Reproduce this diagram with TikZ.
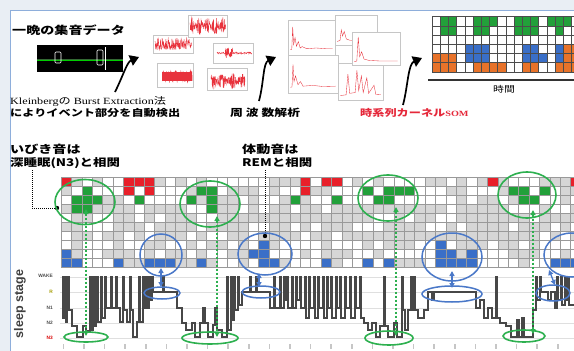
\documentclass[tikz,border=0pt]{standalone}
\usepackage{fontspec}
\usepackage{graphicx}
\usetikzlibrary{shapes.geometric,arrows.meta}
\newfontfamily\jp{Noto Sans CJK JP}
\newfontfamily\lsans{Liberation Sans}
\newfontfamily\lserif{Liberation Serif}
\newcommand\sx[1]{\scalebox{1.28}[1]{#1}}
\definecolor{bgpanel}{HTML}{E9EEF4}
\definecolor{frameblue}{HTML}{8EAEDB}
\definecolor{cellgray}{HTML}{D6D6D6}
\definecolor{gridline}{HTML}{999999}
\definecolor{somgreen}{HTML}{22A03A}
\definecolor{somred}{HTML}{E8202A}
\definecolor{somblue}{HTML}{3A6FC8}
\definecolor{somorange}{HTML}{E8732A}
\definecolor{ellgreen}{HTML}{2DB04F}
\definecolor{ellblue}{HTML}{4A78C8}
\definecolor{hypno}{HTML}{474747}
\definecolor{wavered}{HTML}{E8323C}
\definecolor{redtext}{HTML}{E5283A}
\tikzset{
  txt/.style={inner sep=0, anchor=west},
  gell/.style={draw=ellgreen, line width=1.6, ellipse, inner sep=0},
  bell/.style={draw=ellblue, line width=1.5, ellipse, inner sep=0},
  garrow/.style={ellgreen, line width=1.3, dash pattern=on 2.5pt off 1.5pt, {Triangle[length=5pt,width=5pt]}-{Triangle[length=5pt,width=5pt]}},
  barrow/.style={ellblue, line width=1.3, {Triangle[length=5pt,width=5pt]}-{Triangle[length=5pt,width=5pt]}},
  bigarrow/.style={black, line width=1.7, -{Triangle[length=9pt,width=11pt]}},
  dotline/.style={black, line width=1, densely dotted},
  frm/.style={draw=gray!45, line width=0.4, fill=white},
  sig/.style={wavered, line width=0.35},
  hyp/.style={hypno, line width=1.2},
  lvl/.style={inner sep=0, anchor=east, font=\lsans\bfseries\fontsize{4.8}{5}\selectfont},
  somline/.style={draw=black!70, line width=0.6}
}
\begin{document}
\begin{tikzpicture}[x=1pt,y=-1pt]
\useasboundingbox (0,0) rectangle (574,351);
% background and panel
\fill[bgpanel] (0,0) rectangle (574,351);
\fill[white] (10,10) rectangle (574,351);
\draw[frameblue, line width=1] (10,351) -- (10,10) -- (574,10);

% ---------- top row ----------
\node[txt, font=\jp\bfseries\fontsize{11}{12}\selectfont] (t1) at (12,30) {\sx{一晩の集音データ}};
\fill[black] (37,45) rectangle (123,72);
\draw[green!70!black!60!white, line width=2.2, opacity=0.5] (37,60) -- (123,60);
\draw[green!80!black, line width=0.8] (37,60) -- (123,60);
\draw[white, line width=0.6, rounded corners=1] (55,52) rectangle (61,63);
\draw[white, line width=0.6, rounded corners=1] (97,50) rectangle (103,65);
\draw[white, line width=0.8] (105.5,47) -- (105.5,70);

% waveform panels
\begin{scope}[shift={(153,35)}, x=40pt, y=-18pt]
  \draw[frm] (0,0) rectangle (1,1);
  \draw[sig] plot[domain=0.05:0.97, samples=140] (\x, {0.5+0.33*rand});
\end{scope}
\begin{scope}[shift={(188,15)}, x=39pt, y=-22pt]
  \draw[frm] (0,0) rectangle (1,1);
  \draw[sig] plot[domain=0.05:0.97, samples=160] (\x, {0.5+(0.1+0.3*abs(sin(\x*900)))*rand});
\end{scope}
\begin{scope}[shift={(213,43)}, x=40pt, y=-20pt]
  \draw[frm] (0,0) rectangle (1,1);
  \draw[sig] plot[domain=0.1:0.97, samples=120] (\x, {0.5+(0.05+0.2*(\x>0.3)*(\x<0.5))*rand});
\end{scope}
\begin{scope}[shift={(157,63)}, x=36pt, y=-24pt]
  \draw[frm] (0,0) rectangle (1,1);
  \fill[wavered] (0.15,0.38) rectangle (0.98,0.76);
  \draw[sig] plot[domain=0.15:0.98, samples=100] (\x, {0.57+0.25*rand});
\end{scope}
\begin{scope}[shift={(207,68)}, x=40pt, y=-22pt]
  \draw[frm] (0,0) rectangle (1,1);
  \draw[sig] plot[domain=0.1:0.95, samples=160] (\x, {0.6+(0.1+0.28*abs(sin(\x*700)))*rand});
\end{scope}

% spectrum panels
\begin{scope}[shift={(288,20)}, x=47pt, y=-35pt]
  \draw[frm] (0,0) rectangle (1,1);
  \draw[sig] (0.05,0.85) -- (0.08,0.84) -- (0.1,0.2) -- (0.12,0.7) -- (0.15,0.5) -- (0.18,0.75) -- (0.22,0.62) -- (0.26,0.8) -- (0.3,0.76) -- (0.4,0.82) -- (0.6,0.8) -- (0.8,0.82) -- (0.95,0.82);
\end{scope}
\begin{scope}[shift={(288,55)}, x=50pt, y=-38pt]
  \draw[frm] (0,0) rectangle (1,1);
  \draw[sig] (0.05,0.85) -- (0.08,0.84) -- (0.1,0.25) -- (0.12,0.7) -- (0.15,0.55) -- (0.2,0.78) -- (0.25,0.7) -- (0.3,0.82) -- (0.5,0.8) -- (0.7,0.83) -- (0.95,0.82);
\end{scope}
\begin{scope}[shift={(335,15)}, x=42pt, y=-30pt]
  \draw[frm] (0,0) rectangle (1,1);
  \draw[sig] (0.05,0.88) -- (0.12,0.85) -- (0.15,0.5) -- (0.18,0.7) -- (0.22,0.55) -- (0.27,0.8) -- (0.35,0.84) -- (0.6,0.86) -- (0.95,0.86);
\end{scope}
\begin{scope}[shift={(338,63)}, x=45pt, y=-37pt]
  \draw[frm] (0,0) rectangle (1,1);
  \draw[sig] (0.05,0.88) -- (0.18,0.86) -- (0.22,0.3) -- (0.26,0.82) -- (0.38,0.8) -- (0.42,0.2) -- (0.46,0.75) -- (0.52,0.35) -- (0.56,0.8) -- (0.64,0.4) -- (0.68,0.82) -- (0.8,0.6) -- (0.84,0.85) -- (0.95,0.86);
\end{scope}
\begin{scope}[shift={(352,32)}, x=48pt, y=-33pt]
  \draw[frm] (0,0) rectangle (1,1);
  \draw[sig] (0.05,0.9) -- (0.1,0.88) -- (0.13,0.15) -- (0.16,0.75) -- (0.2,0.6) -- (0.25,0.82) -- (0.35,0.86) -- (0.6,0.88) -- (0.95,0.88);
\end{scope}

% big black arrows
\coordinate (a1s) at (115,92); \coordinate (a1e) at (139,57);
\draw[bigarrow] (a1s) .. controls (123,76) and (127,62) .. (a1e);
\coordinate (a2s) at (259,101); \coordinate (a2e) at (276,57);
\draw[bigarrow] (a2s) .. controls (264,82) and (263,63) .. (a2e);
\coordinate (a3s) at (403,105); \coordinate (a3e) at (422,58);
\draw[bigarrow] (a3s) .. controls (408,86) and (408,64) .. (a3e);

% top SOM grid
\begin{scope}
\clip (431,15) rectangle (574,74);
\fill[white] (432,16.7) rectangle (580,71.9);
\foreach \c/\r in {1/0,2/0,5/0,6/0,7/0,10/0,11/0,12/0,14/0,15/0,16/0,1/1,2/1,5/1,6/1,10/1,11/1,12/1,15/1}
  \fill[somgreen] ({432+8.2*\c},{16.7+9.2*\r}) rectangle ++(8.2,9.2);
\foreach \c/\r in {4/3,5/3,6/3,11/3,12/3,15/3,4/4,5/4,6/4,11/4,12/4,13/4,15/4}
  \fill[somblue] ({432+8.2*\c},{16.7+9.2*\r}) rectangle ++(8.2,9.2);
\foreach \c/\r in {0/4,1/4,2/4,0/5,1/5,2/5,5/5,6/5,7/5,8/5,11/5,12/5,16/3,16/4,15/5,16/5,17/3,17/4,17/5}
  \fill[somorange] ({432+8.2*\c},{16.7+9.2*\r}) rectangle ++(8.2,9.2);
\foreach \c in {0,...,18} \draw[somline] ({432+8.2*\c},16.7) -- ++(0,55.2);
\foreach \r in {0,...,6} \draw[somline] (432,{16.7+9.2*\r}) -- (580,{16.7+9.2*\r});
\end{scope}
\draw[black!80, line width=2] (428,80) -- (574,80);
\node[inner sep=0, font=\jp\fontsize{8.5}{9}\selectfont] (tj) at (504,89) {\sx{時間}};

% top captions
\node[txt, font=\fontsize{9.5}{10}\selectfont] (k1) at (10,102) {\sx{{\lserif Kleinberg}{\jp の}{\lserif\ Burst Extraction}{\jp 法}}};
\node[txt, font=\jp\bfseries\fontsize{9.5}{10}\selectfont] (k2) at (10,113) {\sx{によりイベント部分を自動検出}};
\node[txt, font=\jp\bfseries\fontsize{10}{11}\selectfont] (fa) at (230,113) {\sx{周 波 数解析}};
\node[txt, font=\jp\bfseries\fontsize{9.5}{10}\selectfont, text=redtext] (som) at (360,113) {\sx{時系列カーネル{\lserif\fontsize{8}{9}\selectfont SOM}}};

% ---------- bottom: labels ----------
\node[txt, font=\jp\bfseries\fontsize{11}{12}\selectfont] (l1) at (10,149) {\sx{いびき音は}};
\node[txt, font=\jp\bfseries\fontsize{10.5}{12}\selectfont] (l2) at (10,163) {\sx{深睡眠(N3)と相関}};
\node[txt, font=\jp\bfseries\fontsize{11}{12}\selectfont] (l3) at (242,149) {\sx{体動音は}};
\node[txt, font=\jp\bfseries\fontsize{10.5}{12}\selectfont] (l4) at (242,163) {\sx{REMと相関}};

% big grid
\begin{scope}
\clip (60,170) rectangle (574,270);
\fill[cellgray] (61,177) rectangle (581,267);
\pgfmathsetseed{11}
\foreach \c in {0,...,49}{
  \foreach \r in {0,...,9}{
    \pgfmathsetmacro\pw{\r<3 ? 0.55 : (\r<7 ? 0.25 : 0.6)}
    \pgfmathtruncatemacro\isw{rnd<\pw ? 1 : 0}
    \ifnum\isw=1 \fill[white] ({61+10.4*\c},{177+9*\r}) rectangle ++(10.4,9); \fi
  }
}
\foreach \c/\r in {0/0,6/0,7/0,8/0,6/1,8/1,23/0,23/1,25/0,26/0,41/0,49/0}
  \fill[somred] ({61+10.4*\c},{177+9*\r}) rectangle ++(10.4,9);
\foreach \c/\r in {2/1,1/2,2/2,3/2,1/3,2/3,7/2,13/1,14/1,12/2,14/2,14/3,22/2,26/2,29/1,31/1,32/1,33/1,30/2,31/2,43/1,44/1,46/1,44/2,45/2}
  \fill[somgreen] ({61+10.4*\c},{177+9*\r}) rectangle ++(10.4,9);
\foreach \c/\r in {0/8,0/9,1/9,5/9,8/9,9/9,10/9,13/9,19/7,18/8,19/8,19/9,20/9,25/9,29/9,31/9,36/7,36/8,37/8,39/8,36/9,37/9,38/9,39/9,47/9,48/9,49/9}
  \fill[somblue] ({61+10.4*\c},{177+9*\r}) rectangle ++(10.4,9);
\foreach \c in {0,...,50} \draw[gridline, line width=0.6] ({61+10.4*\c},177) -- ++(0,90);
\foreach \r in {0,...,10} \draw[gridline, line width=0.6] (61,{177+9*\r}) -- (581,{177+9*\r});
\end{scope}

% dotted pointers
\coordinate (d1s) at (32,170); \coordinate (d1e) at (57,208);
\draw[dotline] (d1s) |- (d1e);
\fill[black] (d1e) circle[radius=2.2pt];
\coordinate (d2s) at (265,170); \coordinate (d2e) at (265,236);
\draw[dotline] (d2s) -- (d2e);
\fill[black] (d2e) circle[radius=2.2pt];

% ---------- sleep stage chart ----------
\foreach \y in {277,292,308,323,338} \draw[gray!25, line width=0.5] (60,\y) -- (574,\y);
\node[inner sep=0, rotate=90, font=\lsans\bfseries\fontsize{12.5}{13}\selectfont, text=black!75] (ss) at (20,304) {sleep stage};
\node[lvl, text=black!70] (lw) at (53,276) {WAKE};
\node[lvl, text=olive!80!yellow] (lr) at (53,292) {R};
\node[lvl, text=black!70] (ln1) at (53,308) {N1};
\node[lvl, text=black!70] (ln2) at (53,323) {N2};
\node[lvl, text=red!85!black] (ln3) at (53,338) {N3};
\foreach \k in {0,...,24} \fill[gray!45] ({63.4+20.6*\k-0.8},344) rectangle ++(1.6,5);

\begin{scope}
\clip (60,270) rectangle (574,345);
\draw[hyp] (62,277) \foreach \x/\y in {63/318,64/277,66/322,67/277,69/310,72/326,77/337,83/326,86/331,90/277,91/330,93/277,94/326,96/277,98/322,101/277,102/318,105/277,106/308,111/277,112/308,116/277,117/308,120/322,123/277,124/310,127/322,130/277,131/310,133/337,137/322,139/277,140/322,143/277,144/308,146/277,147/308,149/277,150/300,152/277,153/292,163/277,164/292,177/308,182/323,186/330,192/323,195/337,200/323,203/308,205/323,208/337,213/325,215/308,217/330,222/337,227/277,228/330,231/277,232/320,234/277,235/310,238/277,239/305,242/292,250/277,251/292,256/277,257/292,270/308,274/277,275/308,280/277,281/308,284/277,285/300,287/277,288/308,292/277,293/308,296/277,297/300,300/277,301/308,305/277,306/318,309/277,310/308,314/277,315/318,318/277,319/308,323/277,324/318,327/277,328/308,331/277,332/318,336/277,337/308,340/277,341/318,345/277,346/308,350/277,351/318,355/277,356/308,360/277,361/318,364/323,368/330,372/323,376/337,380/326,384/277,385/326,388/337,394/323,397/337,402/277,403/310,405/330,408/310,411/277,412/310,414/277,415/310,418/318,424/310,428/292,432/300,434/292,476/308,480/300,484/318,488/308,492/318,496/277,497/318,500/323,506/326,511/337,517/320,519/337,522/318,524/337,533/310,536/277,537/300,540/277,541/292,548/300,551/292,555/308,557/277,558/300,561/277,562/305,565/277,566/300,568/277,569/305,574/305} { -| (\x,\y) };
\end{scope}

% ---------- ellipses ----------
\node[gell, minimum width=60, minimum height=45] (E1) at (85,202) {};
\node[gell, minimum width=60, minimum height=46] (E2) at (210,204) {};
\node[gell, minimum width=60, minimum height=46] (E3) at (388,198) {};
\node[gell, minimum width=58, minimum height=46] (E4) at (527,195) {};
\node[bell, minimum width=42, minimum height=42] (B1) at (161,255) {};
\node[bell, minimum width=54, minimum height=42] (B2) at (265,254) {};
\node[bell, minimum width=60, minimum height=48] (B3) at (452,257) {};
\node[bell, minimum width=56, minimum height=44] (B4) at (572,255) {};
\node[bell, minimum width=36, minimum height=12] (S1) at (162,293) {};
\node[bell, minimum width=38, minimum height=12] (S2) at (261,292) {};
\node[bell, minimum width=60, minimum height=16] (S3) at (452,294) {};
\node[bell, minimum width=34, minimum height=16] (S4) at (553,293) {};
\node[gell, minimum width=44, minimum height=10] (G1) at (86,337) {};
\node[gell, minimum width=56, minimum height=12] (G2) at (210,338) {};
\node[gell, minimum width=48, minimum height=14] (G3) at (389,338) {};
\node[gell, minimum width=42, minimum height=12] (G4) at (524,336) {};

% arrows between clusters and stages
\coordinate (g1t) at (86,209); \coordinate (g1b) at (86,336);
\coordinate (g2t) at (217,216); \coordinate (g2b) at (217,337);
\coordinate (g3t) at (396,207); \coordinate (g3b) at (396,336);
\coordinate (g4t) at (533,210); \coordinate (g4b) at (533,334);
\draw[garrow] (g1t) -- (g1b);
\draw[garrow] (g2t) -- (g2b);
\draw[garrow] (g3t) -- (g3b);
\draw[garrow] (g4t) -- (g4b);
\coordinate (b1t) at (161,268); \coordinate (b1b) at (161,287);
\coordinate (b2t) at (259,273); \coordinate (b2b) at (259,287);
\coordinate (b3t) at (452,271); \coordinate (b3b) at (452,288);
\coordinate (b4t) at (549,270); \coordinate (b4b) at (555,285);
\draw[barrow] (b1b) -- (b1t);
\draw[barrow] (b2b) -- (b2t);
\draw[barrow] (b3b) -- (b3t);
\draw[barrow] (b4b) -- (b4t);
\end{tikzpicture}
\end{document}
